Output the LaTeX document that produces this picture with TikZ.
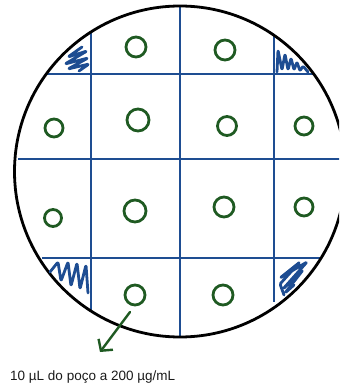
\documentclass[tikz,border=0pt]{standalone}
\usepackage{fontspec}
\setmainfont{Liberation Sans}
\usepackage{tikz}
\usetikzlibrary{arrows.meta,positioning}
\definecolor{gridblue}{HTML}{1E4D92}
\definecolor{wellgreen}{HTML}{1F5A22}
\definecolor{captiongray}{HTML}{1A1A1A}
\tikzset{
  rim/.style={draw=black, line width=2.8pt},
  gridline/.style={draw=gridblue, line width=2.8pt},
  scribble/.style={draw=gridblue, line width=2.8pt, line join=round, line cap=round, rounded corners=1.2pt},
  well/.style={circle, draw=wellgreen, line width=2.8pt, inner sep=0pt, minimum size=#1},
  well/.default=19pt,
  pipette/.style={-{Straight Barb[length=8pt, width=18pt, line width=2.4pt]}, draw=wellgreen, line width=2.4pt, line cap=round},
  caption/.style={font=\fontsize{13.5}{16}\selectfont, text=captiongray, inner sep=0pt}
}
\begin{document}
\begin{tikzpicture}[x=1pt, y=-1pt]
  \useasboundingbox (0,0) rectangle (339,387);
  \clip (0,0) rectangle (339,387);
  \draw[gridline] (91,33) -- (91,310);
  \draw[gridline] (180,6) -- (180,337);
  \draw[gridline] (274,36) -- (274,302);
  \draw[gridline] (47,74) -- (313,74);
  \draw[gridline] (18,159) -- (345,159);
  \draw[gridline] (42,258) -- (322,258);
  \draw[rim] (180,171.5) circle[radius=165.5];
  \draw[scribble] (82,47) -- (68,57) -- (87,51) -- (65,64) -- (88,58) -- (68,69) -- (89,64) -- (79,71);
  \draw[scribble] (277,72) -- (278,50) -- (282,70) -- (285,54) -- (288,70) -- (291,58) -- (294,70) -- (297,62) -- (300,71) -- (303,66) -- (308,72);
  \draw[scribble] (50,272) -- (58,262) -- (61,281) -- (68,262) -- (71,286) -- (77,263) -- (80,289) -- (86,265) -- (88,293);
  \draw[scribble] (284,295) -- (280,284) -- (300,262) -- (280,278) -- (307,262) -- (283,289) -- (303,270) -- (285,293) -- (294,285);
  \node[well=20pt] (w12) at (136,47) {};
  \node[well=20pt] (w13) at (225,50) {};
  \node[well=18pt] (w21) at (54,128) {};
  \node[well=22pt] (w22) at (138,120) {};
  \node[well=19pt] (w23) at (227,126) {};
  \node[well=18pt] (w24) at (304,126) {};
  \node[well=17pt] (w31) at (53,218) {};
  \node[well=22pt] (w32) at (135,211) {};
  \node[well=20pt] (w33) at (224,207) {};
  \node[well=18pt] (w34) at (304,207) {};
  \node[well=20pt] (w42) at (135,295) {};
  \node[well=20pt] (w43) at (223,295) {};
  \coordinate (drop) at (130,312);
  \coordinate (tip) at (100,352);
  \draw[pipette] (drop) -- (tip);
  \node[caption, anchor=base west] (dose) at (10,380) {10 µL do poço a 200 µg/mL};
\end{tikzpicture}
\end{document}
